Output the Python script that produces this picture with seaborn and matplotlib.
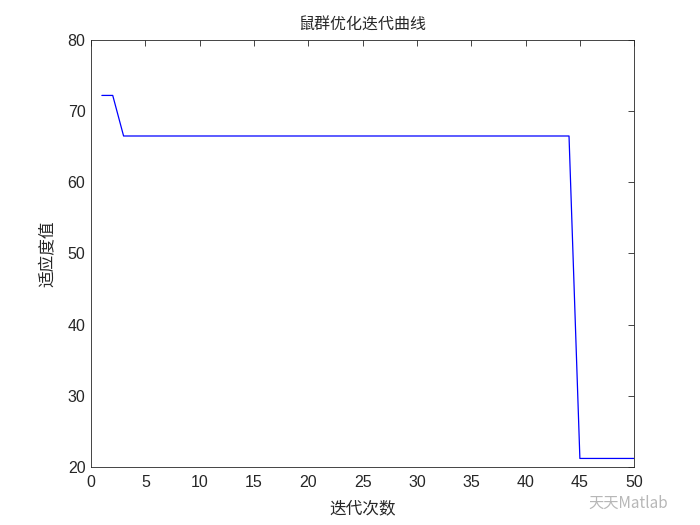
import numpy as np
import pandas as pd
import matplotlib
matplotlib.use("Agg")
import matplotlib.pyplot as plt
import seaborn as sns

# iteration curve values
iterations = list(range(1, 51))
fitness = [72.2, 72.2] + [66.5] * 42 + [21.2] * 6

df = pd.DataFrame({"iter": iterations, "fit": fitness})

sns.set_style("white")
plt.rcParams['font.family'] = ['Liberation Sans', 'Noto Sans CJK SC', 'DejaVu Sans']
plt.rcParams['xtick.direction'] = 'in'
plt.rcParams['ytick.direction'] = 'in'

fig = plt.figure(figsize=(7, 5.25), dpi=100)
ax = fig.add_axes([0.13, 0.1105, 0.776, 0.8135])
sns.lineplot(data=df, x="iter", y="fit", ax=ax, color="blue", linewidth=0.9)

ax.set_xlim(0, 50)
ax.set_ylim(20, 80)
ax.set_xticks(np.arange(0, 51, 5))
ax.set_yticks(np.arange(20, 81, 10))
ax.tick_params(axis='both', labelsize=11.5, length=4, width=0.6, color='#262626',
               labelcolor='#262626', top=True, right=True)
ax.tick_params(axis='x', pad=6)
ax.tick_params(axis='y', pad=4)
for s in ax.spines.values():
    s.set_color('#262626')
    s.set_linewidth(0.6)

cjk = ['Noto Sans CJK SC', 'DejaVu Sans']
ax.set_title("鼠群优化迭代曲线", family=cjk, fontsize=11.5, color='#262626', pad=7)
ax.set_xlabel("迭代次数", family=cjk, fontsize=12, color='#262626', labelpad=7)
ax.set_ylabel("适应度值", family=cjk, fontsize=12, color='#262626', labelpad=8)

# watermark, kept just under the tick labels
fig.text(0.84, 0.042, "天天Matlab", family=cjk, fontsize=11, color='#b0b0b0',
         ha='left', va='center', alpha=0.9)

fig.savefig("out.png", dpi=100)
